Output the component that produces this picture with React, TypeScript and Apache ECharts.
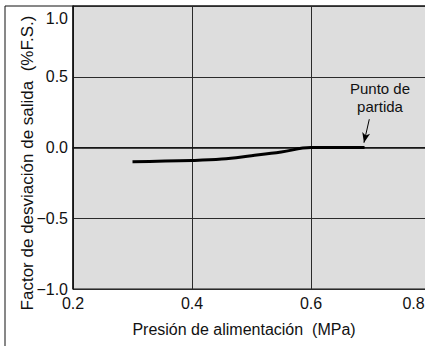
import React, { useEffect, useRef } from "react";
import * as echarts from "echarts";

// Supply pressure (MPa) vs output deviation factor (%F.S.)
const pressure = [0.3, 0.4, 0.45, 0.5, 0.55, 0.6, 0.69];
const deviation = [-0.1, -0.092, -0.082, -0.058, -0.032, 0, 0];

const xTicks = [0.2, 0.4, 0.6, 0.8];
const yTicks = [-1.0, -0.5, 0.0, 0.5, 1.0];

const xTitle = "Presión de alimentación  (MPa)";
const yTitle = "Factor de desviación de salida  (%F.S.)";
const startLabel = "Punto de\npartida";
// arrow pointing at the starting point of the curve
const arrowFrom = [0.698, 0.2];
const arrowTo = [0.689, 0.034];

const FONT = '"Liberation Sans", Arial, Helvetica, sans-serif';

export default function App() {
  const ref = useRef<HTMLDivElement>(null);

  useEffect(() => {
    if (!ref.current) return;
    const chart = echarts.init(ref.current, undefined, { renderer: "svg" });
    const fmtY = (v: number) => {
      const s = Math.abs(v).toFixed(1);
      if (Math.abs(v - 1) < 1e-6) return "{top|" + s + "}";
      return v < 0 ? "\u2212" + s : s;
    };
    const fmtX = (v: number) =>
      Math.abs(v - 0.8) < 1e-6 ? "{r|" + v.toFixed(1) + "}" : v.toFixed(1);
    chart.setOption({
      animation: false,
      backgroundColor: "#ffffff",
      textStyle: { fontFamily: FONT },
      grid: {
        left: 73,
        top: 6,
        width: 357,
        height: 283,
        outerBoundsMode: "none",
        containLabel: false,
        show: true,
        backgroundColor: "#dddddd",
        borderColor: "#111111",
        borderWidth: 1,
      },
      xAxis: {
        type: "value",
        min: xTicks[0],
        max: xTicks[xTicks.length - 1],
        interval: 0.2,
        axisLine: { show: true, lineStyle: { color: "#111", width: 1.5 } },
        axisTick: { show: false },
        axisLabel: {
          margin: 6,
          fontSize: 16,
          color: "#111",
          fontFamily: FONT,
          formatter: fmtX,
          rich: {
            r: { fontSize: 16, color: "#111", fontFamily: FONT, padding: [0, 33, 0, 0] },
          },
        },
        splitLine: { show: true, lineStyle: { color: "#2a2a2a", width: 1 } },
      },
      yAxis: {
        type: "value",
        min: yTicks[0],
        max: yTicks[yTicks.length - 1],
        interval: 0.5,
        axisLine: { show: true, lineStyle: { color: "#111", width: 1.5 } },
        axisTick: { show: false },
        axisLabel: {
          margin: 5,
          fontSize: 16,
          color: "#111",
          fontFamily: FONT,
          formatter: fmtY,
          rich: {
            top: { fontSize: 16, color: "#111", fontFamily: FONT, padding: [24, 0, 0, 0] },
          },
        },
        splitLine: { show: true, lineStyle: { color: "#2a2a2a", width: 1 } },
      },
      series: [
        {
          type: "line",
          data: pressure.map((p, i) => [p, deviation[i]]),
          smooth: 0.4,
          symbol: "none",
          lineStyle: { color: "#000", width: 3 },
          markLine: {
            silent: true,
            symbol: ["none", "arrow"],
            symbolSize: [6, 10],
            lineStyle: { color: "#000", width: 1, type: "solid" },
            label: { show: false },
            data: [[{ coord: arrowFrom }, { coord: arrowTo }]],
          },
        },
      ],
      graphic: [
        {
          type: "rect",
          shape: { x: 5, y: 6, width: 440, height: 360 },
          style: { fill: "none", stroke: "#111", lineWidth: 1 },
          silent: true,
        },
        {
          type: "text",
          x: 380,
          y: 79,
          style: {
            text: startLabel,
            textAlign: "center",
            fontSize: 15,
            lineHeight: 18,
            fontFamily: FONT,
            fill: "#111",
          },
        },
        {
          type: "text",
          x: 244,
          y: 329,
          style: {
            text: xTitle,
            textAlign: "center",
            textVerticalAlign: "middle",
            fontSize: 16,
            fontFamily: FONT,
            fill: "#111",
          },
        },
        {
          type: "text",
          x: 27,
          y: 163,
          rotation: Math.PI / 2,
          style: {
            text: yTitle,
            textAlign: "center",
            textVerticalAlign: "middle",
            fontSize: 17,
            fontFamily: FONT,
            fill: "#111",
          },
        },
      ],
    });
    return () => chart.dispose();
  }, []);

  return (
    <div
      ref={ref}
      style={{ position: "fixed", left: 0, top: 0, width: 425, height: 346 }}
    />
  );
}
